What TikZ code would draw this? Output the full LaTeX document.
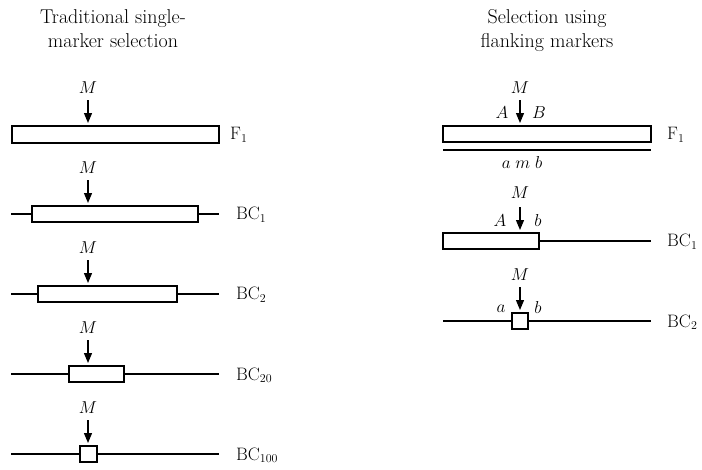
\documentclass[tikz,border=0pt]{standalone}
\usetikzlibrary{arrows.meta}
\begin{document}
\begin{tikzpicture}[x=1pt,y=-1pt,
  every node/.style={font=\fontsize{18}{22}\selectfont, inner sep=0pt},
  bar/.style={draw, line width=1.2pt, fill=white, rectangle, inner sep=0pt},
  chrom/.style={line width=1.2pt},
  thickend/.style={line width=2.2pt},
  arr/.style={line width=1.2pt, -{Triangle[length=10pt,width=8pt]}},
  lbl/.style={anchor=west},
  ttl/.style={anchor=base, font=\fontsize{20}{24}\selectfont}
]
\useasboundingbox (0,0) rectangle (702,469);

% Titles
\node[ttl] (tl1) at (113,23) {Traditional single-};
\node[ttl] (tl2) at (113,47) {marker selection};
\node[ttl] (tr1) at (547,23) {Selection using};
\node[ttl] (tr2) at (547,47) {flanking markers};

% ---------- Left column ----------
% F1
\node[bar, minimum width=207pt, minimum height=17pt] (lb1) at (115.5,134.5) {};
\node (lm1) at (88,88) {$M$};
\coordinate (la1) at (88,100);
\coordinate (lt1) at (88,123);
\draw[arr] (la1) -- (lt1);
\node[lbl] (lf1) at (230,135) {F$_1$};

% BC1
\coordinate (ll2a) at (11,214);
\coordinate (ll2b) at (219,214);
\draw[chrom] (ll2a) -- (ll2b);
\node[bar, minimum width=166pt, minimum height=16pt] (lb2) at (115,214) {};
\node (lm2) at (88,168) {$M$};
\coordinate (la2) at (88,180);
\coordinate (lt2) at (88,203);
\draw[arr] (la2) -- (lt2);
\node[lbl] (lf2) at (236,215) {BC$_1$};

% BC2
\coordinate (ll3a) at (11,294);
\coordinate (ll3b) at (219,294);
\draw[chrom] (ll3a) -- (ll3b);
\node[bar, minimum width=139pt, minimum height=16pt] (lb3) at (107.5,294) {};
\node (lm3) at (88,248) {$M$};
\coordinate (la3) at (88,260);
\coordinate (lt3) at (88,283);
\draw[arr] (la3) -- (lt3);
\node[lbl] (lf3) at (236,295) {BC$_2$};

% BC20
\coordinate (ll4a) at (11,374);
\coordinate (ll4b) at (219,374);
\draw[chrom] (ll4a) -- (ll4b);
\node[bar, minimum width=55pt, minimum height=16pt] (lb4) at (96.5,374) {};
\node (lm4) at (88,328) {$M$};
\coordinate (la4) at (88,340);
\coordinate (lt4) at (88,363);
\draw[arr] (la4) -- (lt4);
\node[lbl] (lf4) at (236,375) {BC$_{20}$};

% BC100
\coordinate (ll5a) at (11,454);
\coordinate (ll5b) at (219,454);
\draw[chrom] (ll5a) -- (ll5b);
\node[bar, minimum width=17pt, minimum height=16pt] (lb5) at (88.5,454) {};
\node (lm5) at (88,408) {$M$};
\coordinate (la5) at (88,420);
\coordinate (lt5) at (88,443);
\draw[arr] (la5) -- (lt5);
\node[lbl] (lf5) at (236,455) {BC$_{100}$};

% ---------- Right column ----------
% F1
\node[bar, minimum width=208pt, minimum height=16pt] (rb1) at (547,134) {};
\coordinate (rh1a) at (443,150);
\coordinate (rh1b) at (651,150);
\draw[chrom] (rh1a) -- (rh1b);
\node (rm1) at (520,88) {$M$};
\node (rA1) at (502,113) {$A$};
\node (rB1) at (539,113) {$B$};
\coordinate (ra1) at (520,100);
\coordinate (rt1) at (520,123);
\draw[arr] (ra1) -- (rt1);
\node (ramb) at (522,162) {$a\;m\;b$};
\node[lbl] (rf1) at (667,135) {F$_1$};

% BC1
\coordinate (rl2b) at (651,241);
\node[bar, minimum width=96pt, minimum height=16pt] (rb2) at (491,241) {};
\draw[chrom] (rb2.east) -- (rl2b);
\node (rm2) at (520,193) {$M$};
\node (rA2) at (500,221) {$A$};
\node (rb2l) at (538,220) {$b$};
\coordinate (ra2) at (520,207);
\coordinate (rt2) at (520,230);
\draw[arr] (ra2) -- (rt2);
\node[lbl] (rf2) at (667,242) {BC$_1$};

% BC2
\coordinate (rl3a) at (443,321);
\coordinate (rl3b) at (651,321);
\coordinate (rl3c) at (464,321);
\coordinate (rl3d) at (630,321);
\draw[chrom] (rl3a) -- (rl3b);
\draw[thickend] (rl3a) -- (rl3c);
\draw[thickend] (rl3d) -- (rl3b);
\node[bar, minimum width=16pt, minimum height=16pt] (rb3) at (520,321) {};
\node (rm3) at (520,275) {$M$};
\node (ra3l) at (501,309) {$a$};
\node (rb3l) at (538,307) {$b$};
\coordinate (ra3) at (520,287);
\coordinate (rt3) at (520,310);
\draw[arr] (ra3) -- (rt3);
\node[lbl] (rf3) at (667,322) {BC$_2$};
\end{tikzpicture}
\end{document}
